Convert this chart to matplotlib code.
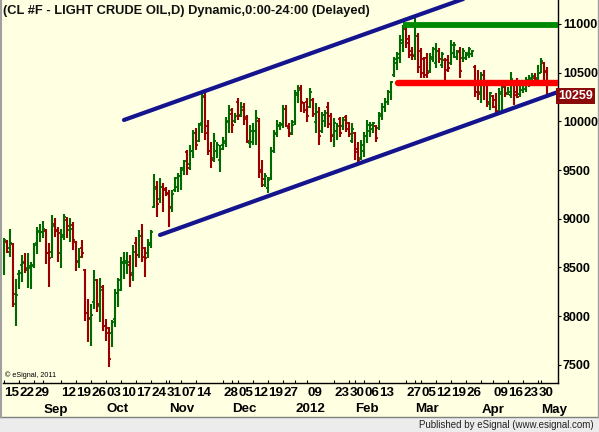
import matplotlib
matplotlib.use("Agg")
import matplotlib.pyplot as plt
import matplotlib.transforms as mtransforms
from matplotlib.patches import Rectangle
import pandas as pd
import numpy as np

plt.rcParams['font.family'] = ['Liberation Sans', 'DejaVu Sans']

# ---------------- data ----------------
holidays = ["2011-09-05", "2011-11-24", "2011-12-26", "2012-01-02",
            "2012-01-16", "2012-02-20", "2012-04-06"]

opens = [8552, 8765, 8696, 8740, 8121, 8432, 8522, 8559, 8490, 8497,
         8514, 8747, 8860, 8864, 8877, 8645, 8655, 8946, 8877, 8651,
         8833, 8987, 8884, 8935, 8764, 8566, 8696, 8473, 8028, 7967,
         8148, 8371, 8104, 8295, 7898, 7823, 7823, 7967, 8240, 8371,
         8559, 8542, 8525, 8439, 8747, 8627, 8822, 8696, 8645, 8750,
         9125, 9330, 9200, 9330, 9310, 9260, 9110, 9290, 9330, 9440,
         9500, 9680, 9560, 9700, 9880, 9800, 9980, 10250, 9950, 9700,
         9620, 9700, 9600, 9760, 9780, 9990, 10080, 10000, 10200, 10060,
         10120, 10020, 9780, 9790, 9900, 10000, 9480, 9350, 9320, 9420,
         9700, 9880, 9950, 9960, 10130, 9930, 9880, 9990, 10270, 10340,
         10190, 10200, 10150, 10220, 9990, 10100, 9900, 10000, 10150, 10050,
         9860, 9900, 10020, 9950, 10040, 9980, 9800, 9880, 9720, 9620,
         9700, 9850, 9900, 9920, 9950, 9930, 10050, 10150, 10200, 10300,
         10480, 10600, 10650, 10800, 10950, 10850, 10720, 10680, 10880, 10720,
         10640, 10650, 10520, 10640, 10600, 10720, 10580, 10630, 10630, 10600,
         10700, 10660, 10720, 10650, 10650, 10680, 10690, 10560, 10300, 10300,
         10480, 10380, 10180, 10260, 10220, 10100, 10280, 10350, 10290, 10270,
         10400, 10300, 10280, 10320, 10330, 10400, 10420, 10450, 10450, 10500,
         10600, 10510]
highs = [8799, 8782, 8891, 8754, 8381, 8474, 8628, 8652, 8645, 8552,
         8747, 8911, 8946, 8980, 8891, 8747, 9038, 9004, 8919, 8891,
         9048, 9021, 9004, 8970, 8771, 8703, 8782, 8480, 8176, 8124,
         8473, 8381, 8395, 8319, 7967, 7891, 7960, 8275, 8388, 8610,
         8655, 8655, 8627, 8730, 8816, 8884, 8946, 8713, 8788, 8885,
         9460, 9390, 9415, 9364, 9330, 9295, 9295, 9432, 9467, 9535,
         9603, 9706, 9758, 9912, 9929, 9980, 10305, 10329, 10014, 9792,
         9877, 9792, 9758, 9843, 10048, 10168, 10134, 10083, 10237, 10202,
         10185, 10066, 9963, 9980, 10117, 10031, 9603, 9467, 9432, 9741,
         9912, 10014, 9997, 10168, 10168, 9980, 10014, 10322, 10374, 10374,
         10203, 10237, 10340, 10237, 10185, 10151, 10100, 10117, 10203, 10083,
         10031, 9980, 10048, 10048, 10066, 9997, 9980, 9895, 9792, 9809,
         9895, 10014, 9997, 9997, 9963, 10100, 10185, 10237, 10322, 10415,
         10664, 10715, 10887, 10989, 10972, 10887, 10767, 11060, 10904, 10750,
         10664, 10698, 10698, 10767, 10801, 10750, 10715, 10647, 10681, 10835,
         10818, 10733, 10767, 10750, 10715, 10767, 10733, 10579, 10527, 10510,
         10527, 10407, 10305, 10271, 10288, 10339, 10425, 10390, 10356, 10510,
         10425, 10442, 10407, 10425, 10459, 10476, 10493, 10493, 10579, 10647,
         10613, 10561]
lows = [8422, 8645, 8610, 8097, 7899, 8275, 8354, 8446, 8285, 8282,
        8497, 8634, 8758, 8799, 8532, 8302, 8600, 8816, 8552, 8491,
        8782, 8799, 8764, 8679, 8467, 8491, 8593, 7953, 7737, 7696,
        8073, 8039, 7943, 7850, 7744, 7481, 7679, 7891, 8097, 8261,
        8381, 8432, 8302, 8364, 8508, 8593, 8559, 8405, 8593, 8700,
        9107, 9022, 9160, 9073, 9230, 8919, 9073, 9278, 9278, 9295,
        9449, 9449, 9501, 9621, 9706, 9792, 9877, 9809, 9655, 9518,
        9586, 9621, 9484, 9706, 9740, 9877, 9877, 9980, 10014, 10048,
        9963, 9775, 9723, 9758, 9758, 9415, 9330, 9330, 9261, 9398,
        9672, 9843, 9912, 9929, 9946, 9843, 9860, 9963, 10185, 10100,
        10083, 9998, 10134, 10048, 9878, 9758, 9878, 9946, 9929, 9792,
        9741, 9809, 9843, 9912, 9895, 9843, 9775, 9604, 9553, 9604,
        9638, 9775, 9843, 9878, 9792, 9912, 10014, 10100, 10168, 10220,
        10459, 10527, 10596, 10715, 10750, 10647, 10630, 10630, 10493, 10442,
        10442, 10442, 10493, 10613, 10544, 10596, 10544, 10373, 10510, 10579,
        10647, 10630, 10442, 10613, 10630, 10647, 10664, 10254, 10219, 10185,
        10219, 10151, 10116, 10134, 10065, 10065, 10099, 10253, 10271, 10236,
        10168, 10236, 10253, 10288, 10305, 10356, 10373, 10390, 10425, 10493,
        10407, 10236]
closes = [8782, 8662, 8747, 8224, 8217, 8446, 8542, 8473, 8514, 8521,
          8727, 8874, 8867, 8890, 8645, 8593, 8925, 8884, 8857, 8809,
          9014, 8925, 8891, 8782, 8559, 8603, 8645, 8035, 7984, 8011,
          8371, 8124, 8268, 7898, 7874, 7556, 7940, 8240, 8268, 8542,
          8566, 8559, 8422, 8662, 8627, 8822, 8610, 8593, 8730, 8860,
          9310, 9150, 9330, 9290, 9250, 9120, 9250, 9420, 9440, 9520,
          9590, 9520, 9700, 9880, 9760, 9960, 10260, 9880, 9700, 9600,
          9800, 9760, 9720, 9800, 10000, 10120, 9960, 10050, 10050, 10150,
          10040, 9800, 9900, 9900, 10030, 9500, 9410, 9440, 9400, 9700,
          9870, 9960, 9970, 10130, 9950, 9870, 9960, 10290, 10320, 10200,
          10120, 10050, 10300, 10080, 10100, 9850, 10060, 10090, 9970, 9850,
          9980, 9950, 9880, 10010, 9920, 9870, 9920, 9680, 9600, 9760,
          9850, 9960, 9960, 9980, 9830, 10080, 10150, 10200, 10300, 10400,
          10640, 10690, 10840, 10960, 10800, 10680, 10670, 10880, 10560, 10500,
          10480, 10500, 10660, 10740, 10720, 10640, 10690, 10530, 10550, 10780,
          10780, 10710, 10520, 10720, 10700, 10740, 10720, 10300, 10280, 10480,
          10400, 10200, 10290, 10150, 10110, 10300, 10390, 10280, 10300, 10430,
          10270, 10250, 10380, 10400, 10420, 10450, 10470, 10420, 10500, 10620,
          10520, 10259]

day_labels = ["15", "22", "29", "12", "19", "26", "03", "10", "17", "24", "31",
              "07", "14", "28", "05", "12", "19", "27", "09", "23", "30", "06",
              "13", "27", "05", "12", "19", "26", "09", "16", "23", "30"]
day_dates = ["2011-08-15", "2011-08-22", "2011-08-29", "2011-09-12", "2011-09-19",
             "2011-09-26", "2011-10-03", "2011-10-10", "2011-10-17", "2011-10-24",
             "2011-10-31", "2011-11-07", "2011-11-14", "2011-11-28", "2011-12-05",
             "2011-12-12", "2011-12-19", "2011-12-27", "2012-01-09", "2012-01-23",
             "2012-01-30", "2012-02-06", "2012-02-13", "2012-02-27", "2012-03-05",
             "2012-03-12", "2012-03-19", "2012-03-26", "2012-04-09", "2012-04-16",
             "2012-04-23", "2012-04-30"]
month_labels = ["Sep", "Oct", "Nov", "Dec", "2012", "Feb", "Mar", "Apr", "May"]
month_dates = ["2011-09-01", "2011-10-03", "2011-11-01", "2011-12-01", "2012-01-03",
               "2012-02-01", "2012-03-01", "2012-04-02", "2012-05-01"]
price_ticks = [7500, 8000, 8500, 9000, 9500, 10000, 10500, 11000]

# channel / level lines (start, end as date index, price)
upper_channel = [(40, 10014), (158.7, 11318)]
lower_channel = [(52, 8833), (184.7, 10302)]
resistance = (133, 10985)
support = (131.5, 10394)
last_price = 10259

title = "(CL #F - LIGHT CRUDE OIL,D) Dynamic,0:00-24:00 (Delayed)"

# ---------------- figure ----------------
W, H = 599, 432
BG = '#FFFFE1'
fig = plt.figure(figsize=(W / 100, H / 100), dpi=100)
fig.patch.set_facecolor(BG)

# bottom status strip
fig.patches.append(Rectangle((0, 0), 1, 15 / H, transform=fig.transFigure,
                             facecolor='#ECECEC', edgecolor='none', zorder=0))
fig.add_artist(plt.Line2D([0, 1], [15.5 / H, 15.5 / H], transform=fig.transFigure,
                          color='#808080', lw=1))
fig.add_artist(plt.Line2D([1 / W, 1 / W], [15.5 / H, 1], transform=fig.transFigure,
                          color='#A0A0A0', lw=1.5))
fig.add_artist(plt.Line2D([597.5 / W, 597.5 / W], [15.5 / H, 1], transform=fig.transFigure,
                          color='#A0A0A0', lw=1))

ax = fig.add_axes([3 / W, (H - 383) / H, (558 - 3) / W, 383 / H])
ax.set_facecolor(BG)

dates = pd.bdate_range("2011-08-15", "2012-05-03")
dates = [d for d in dates if d.strftime("%Y-%m-%d") not in holidays]
n = len(closes)
dates = dates[:n]
date_str = [d.strftime("%Y-%m-%d") for d in dates]
x = np.arange(n)

o = np.array(opens); h = np.array(highs); l = np.array(lows); c = np.array(closes)
up = c >= o
cols = np.where(up, '#006A00', '#9A0000')

ax.vlines(x, l, h, colors=cols, lw=1.5, zorder=2)
ax.hlines(o, x - 0.55, x, colors=cols, lw=1.3, zorder=2)
ax.hlines(c, x, x + 0.55, colors=cols, lw=1.3, zorder=2)

blue = '#14148E'
ax.plot([p[0] for p in upper_channel], [p[1] for p in upper_channel],
        color=blue, lw=3.0, zorder=4, solid_capstyle='round')
ax.plot([p[0] for p in lower_channel], [p[1] for p in lower_channel],
        color=blue, lw=3.0, zorder=4, solid_capstyle='round')
ax.plot([resistance[0], 190], [resistance[1]] * 2, color='#008A00', lw=4.2,
        zorder=3, solid_capstyle='butt')
ax.plot([support[0], 190], [support[1]] * 2, color='#FF0000', lw=4.6,
        zorder=3, solid_capstyle='round')

ax.set_xlim(-0.33, 184.67)
ax.set_ylim(7313, 11246)

for s in ['left', 'top']:
    ax.spines[s].set_visible(False)
for s in ['right', 'bottom']:
    ax.spines[s].set_color('black')
    ax.spines[s].set_linewidth(1.0)

ax.yaxis.tick_right()
ax.set_yticks(price_ticks)
ax.set_yticklabels([str(v) for v in price_ticks], fontsize=9, fontweight='bold')
ax.tick_params(axis='y', length=2, pad=1.5, colors='black')

tick_pos = [date_str.index(d) for d in day_dates] + [date_str.index(d) for d in month_dates]
ax.set_xticks(sorted(set(tick_pos)))
ax.set_xticklabels([])
ax.tick_params(axis='x', length=2.5, direction='in', width=0.8)

row_tr = mtransforms.blended_transform_factory(ax.transData, fig.transFigure)
for lab, d in zip(day_labels, day_dates):
    ax.text(date_str.index(d) + 0.1, 1 - 393 / H, lab, transform=row_tr, ha='left',
            va='center', fontsize=9.6, fontweight='bold', clip_on=False)
for lab, d in zip(month_labels, month_dates):
    ax.text(date_str.index(d) + 0.1, 1 - 409.5 / H, lab, transform=row_tr, ha='left',
            va='center', fontsize=9.6, fontweight='bold', clip_on=False)

# last price box
fig.patches.append(Rectangle((558.5 / W, 0), 35 / W, 1, transform=fig.transFigure,
                             facecolor='none', edgecolor='none'))
lp_tr = mtransforms.blended_transform_factory(fig.transFigure, ax.transData)
ax.text(575.5 / W, last_price, str(last_price), transform=lp_tr, ha='center',
        va='center', fontsize=9, fontweight='bold', color='white', clip_on=False,
        zorder=6, bbox=dict(facecolor='#8B0A0A', edgecolor='none',
                            boxstyle='square,pad=0.18'))

fig.text(3 / W, 1 - 11 / H, title, ha='left', va='center', fontsize=9.3,
         fontweight='bold', color='#111111')
fig.text(5 / W, 1 - 375 / H, '\u00a9 eSignal, 2011', ha='left', va='center',
         fontsize=5.2, color='black')
fig.text(594 / W, 1 - 425 / H, 'Published by eSignal (www.esignal.com)', ha='right',
         va='center', fontsize=7, color='#222222')

fig.savefig('out.png', dpi=100, facecolor=BG)
